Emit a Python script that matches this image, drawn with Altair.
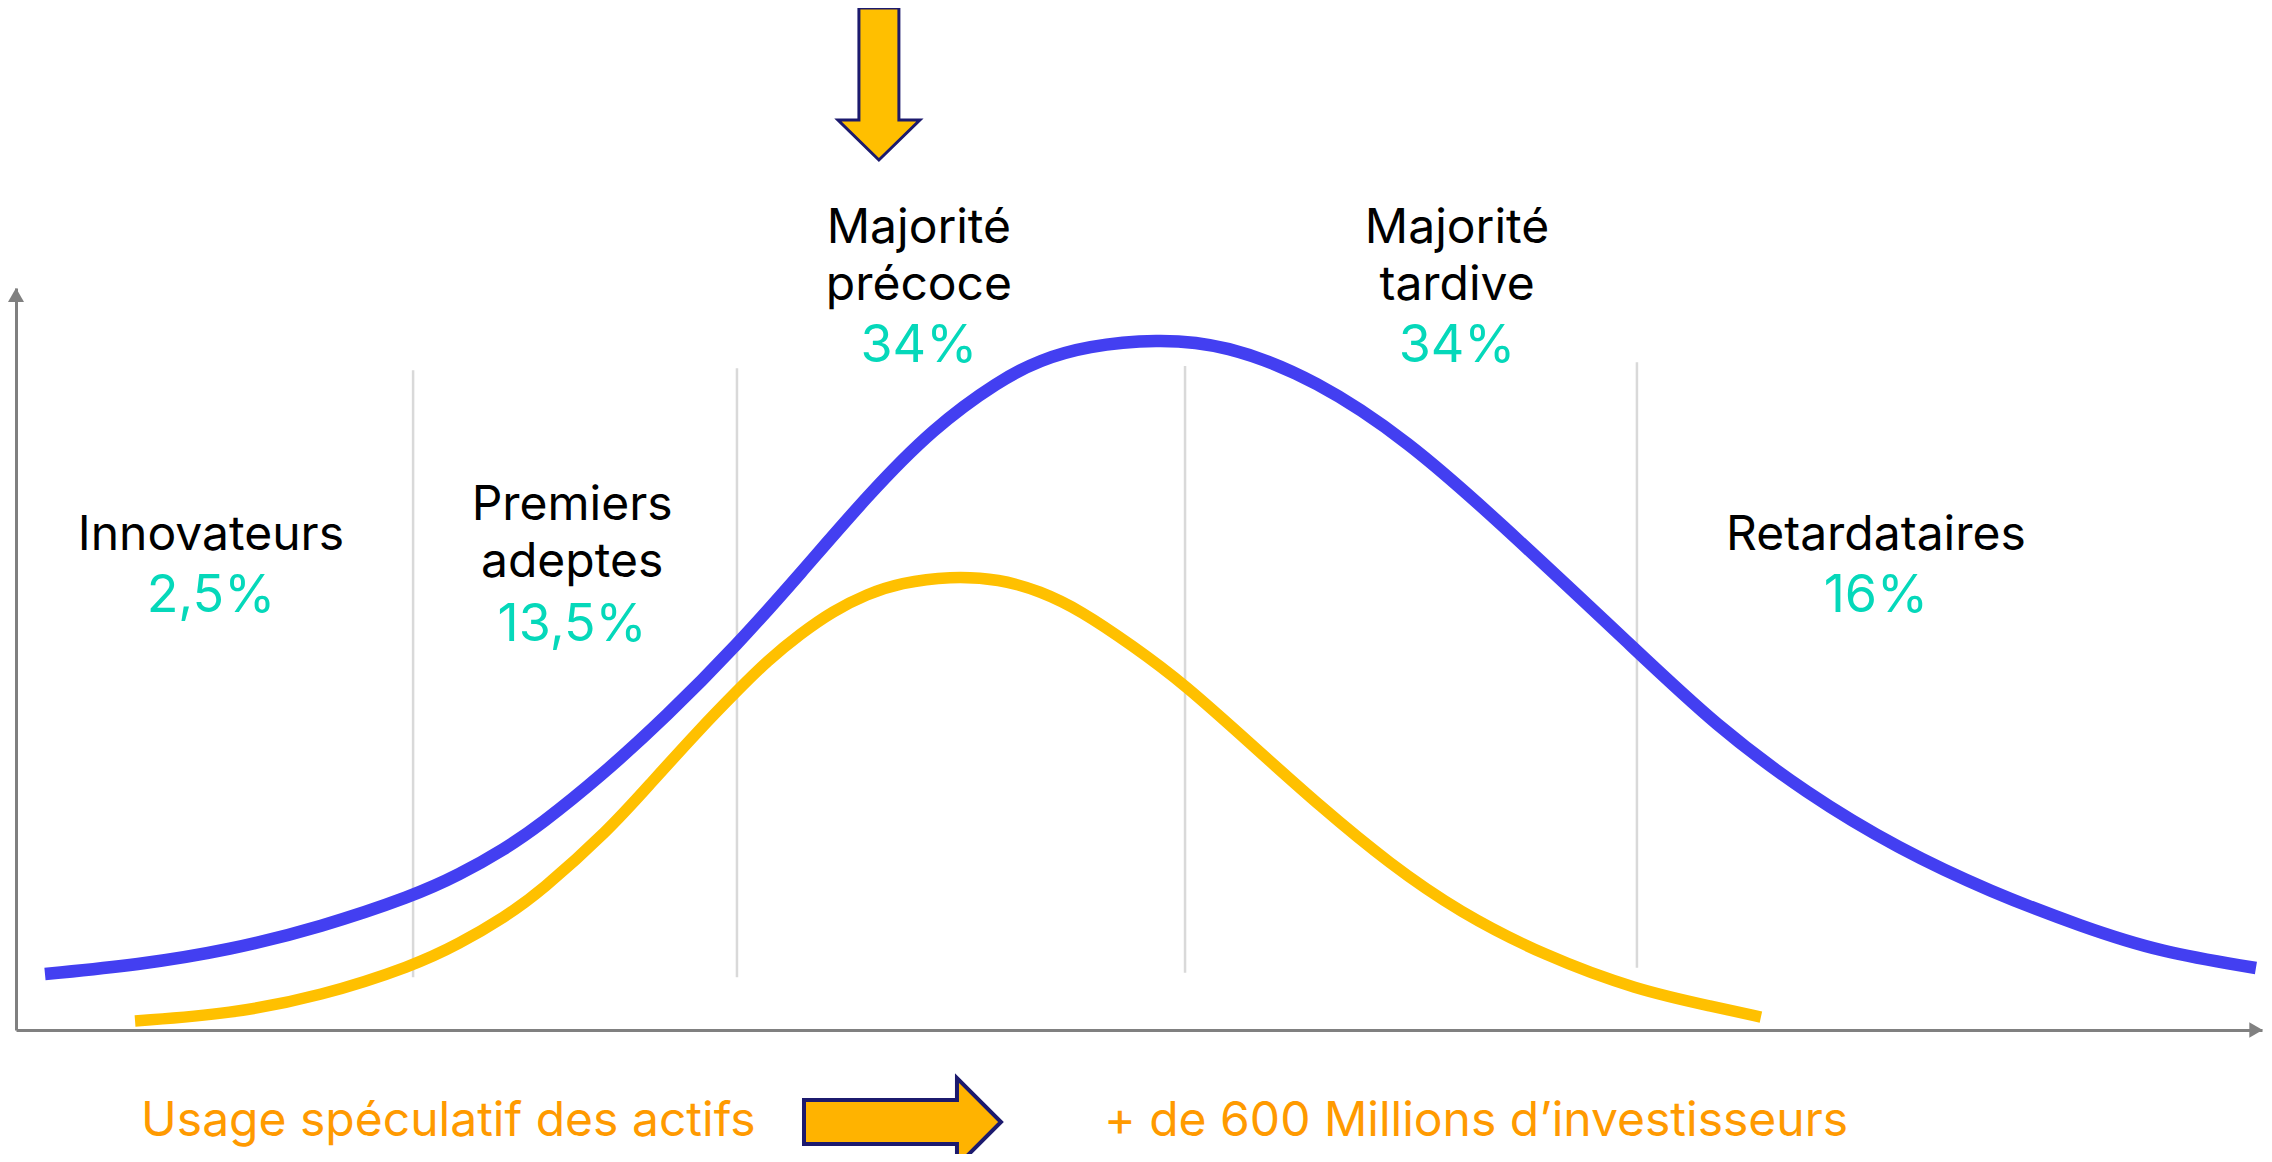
import altair as alt
import pandas as pd

# ---------------- data (x: 0-100 along the adoption axis, y: 0-100 height) ----------------
blue_x = [1.29, 5.43, 9.53, 13.58, 17.68, 19.72, 21.77, 23.33, 26.00, 28.98, 32.10, 34.91,
          37.89, 40.83, 43.81, 45.59, 47.68, 50.76, 53.83, 57.93, 62.02, 65.76, 72.17,
          75.65, 79.74, 83.84, 87.93, 92.03, 95.46, 99.73]
blue_y = [7.55, 8.76, 10.78, 13.88, 18.06, 20.89, 24.39, 27.63, 34.10, 42.32, 51.89, 61.46,
          71.97, 81.13, 87.60, 90.30, 92.18, 93.13, 92.45, 87.60, 79.25, 69.27, 51.08,
          41.11, 31.81, 24.39, 18.60, 13.88, 10.51, 8.36]

yellow_x = [5.30, 9.53, 13.58, 17.68, 19.72, 21.77, 23.33, 26.40, 28.23, 30.45, 32.10, 33.44,
            34.91, 36.38, 37.89, 39.36, 41.59, 43.81, 45.59, 47.37, 49.73, 51.96, 55.03,
            58.10, 61.17, 64.25, 68.08, 72.17, 75.65, 77.69]
yellow_y = [1.21, 2.16, 4.58, 8.63, 11.59, 15.23, 18.60, 26.95, 33.15, 40.57, 45.69, 49.73,
            53.37, 56.47, 58.76, 60.24, 61.19, 60.78, 59.16, 56.60, 51.75, 46.77, 38.41,
            30.05, 22.37, 15.90, 9.97, 5.39, 3.10, 1.75]

# segment boundaries (vertical separators)
bound_x = [17.68, 32.10, 52.05, 72.17]
bound_top = [88.9, 89.2, 89.5, 90.0]
bound_bottom = [7.1, 7.1, 7.7, 8.4]

# categories and shares
categories = ["Innovateurs", "Premiers\nadeptes", "Majorité\nprécoce", "Majorité\ntardive", "Retardataires"]
shares = ["2,5%", "13,5%", "34%", "34%", "16%"]
# annotation anchors (in data units)
cat_x = [8.68, 24.76, 40.20, 64.16, 82.81]
cat_y = [64.69, 68.73, 106.06, 106.06, 64.69]
share_y = [56.33, 52.43, 90.03, 90.03, 56.33]

bottom_texts = ["Usage spéculatif des actifs", "+ de 600 Millions d\u2019investisseurs"]
bottom_x = [5.57, 48.44]
bottom_y = [-14.29, -14.29]

# ---------------- styles ----------------
BLUE = "#433ff1"
YELLOW = "#ffc000"
TEAL = "#05d8ba"
ORANGE = "#ff9a00"
AXIS = "#808080"
GRID = "#d9d9d9"
NAVY = "#1c1a6e"
ARROW_FILL_DOWN = "#ffbf00"
ARROW_FILL_RIGHT = "#ffb300"
FONT = "Inter"

xs = alt.Scale(domain=[0, 100], nice=False, zero=False)
ys = alt.Scale(domain=[0, 100], nice=False, zero=False)


def X(field):
    return alt.X(field, type="quantitative", scale=xs, title=None)


def Y(field):
    return alt.Y(field, type="quantitative", scale=ys, title=None)


curves = pd.DataFrame(
    {"x": blue_x + yellow_x,
     "y": blue_y + yellow_y,
     "serie": ["bleu"] * len(blue_x) + ["jaune"] * len(yellow_x),
     "i": list(range(len(blue_x))) + list(range(len(yellow_x)))}
)

bounds_df = pd.DataFrame({"x": bound_x, "y": bound_bottom, "y2": bound_top})
rules = alt.Chart(bounds_df).mark_rule(color=GRID, strokeWidth=2.5).encode(
    x=X("x"), y=Y("y"), y2="y2:Q",
)

blue_line = alt.Chart(curves[curves.serie == "bleu"]).mark_line(
    color=BLUE, strokeWidth=12.5, interpolate="basis", strokeCap="butt"
).encode(x=X("x"), y=Y("y"), order="i:Q")

yellow_line = alt.Chart(curves[curves.serie == "jaune"]).mark_line(
    color=YELLOW, strokeWidth=11.5, interpolate="basis", strokeCap="butt"
).encode(x=X("x"), y=Y("y"), order="i:Q")

labels_df = pd.DataFrame({"cat": categories, "share": shares, "x": cat_x, "y": cat_y, "sy": share_y})
cat_text = alt.Chart(labels_df).mark_text(
    font=FONT, fontSize=48, color="#000000", align="center", baseline="alphabetic",
    lineBreak="\n", lineHeight=57
).encode(x=X("x"), y=Y("y"), text="cat:N")

share_text = alt.Chart(labels_df).mark_text(
    font=FONT, fontSize=52, color=TEAL, align="center", baseline="alphabetic"
).encode(x=X("x"), y=Y("sy"), text="share:N")

bottom_df = pd.DataFrame({"t": bottom_texts, "x": bottom_x, "y": bottom_y})
bottom_text = alt.Chart(bottom_df).mark_text(
    font=FONT, fontSize=48, color=ORANGE, align="left", baseline="alphabetic"
).encode(x=X("x"), y=Y("y"), text="t:N")

# axis arrow heads
y_head = alt.Chart(pd.DataFrame({"x": [0], "y": [100]})).mark_point(
    shape="triangle-up", filled=True, size=256, color=AXIS, opacity=1, yOffset=7
).encode(x=X("x"), y=Y("y"))
x_head = alt.Chart(pd.DataFrame({"x": [100], "y": [0]})).mark_point(
    shape="triangle-right", filled=True, size=240, color=AXIS, opacity=1, xOffset=-6
).encode(x=X("x"), y=Y("y"))

# block arrows (annotation shapes)
down_path = "M -0.263 -1 L 0.263 -1 L 0.263 0.474 L 0.539 0.474 L 0 1 L -0.539 0.474 L -0.263 0.474 Z"
right_path = "M -1 -0.223 L 0.553 -0.223 L 0.553 -0.447 L 1 0 L 0.553 0.447 L 0.553 0.223 L -1 0.223 Z"
down_arrow = alt.Chart(pd.DataFrame({"x": [38.42], "y": [127.5]})).mark_point(
    shape=down_path, filled=True, size=152 * 152, fill=ARROW_FILL_DOWN, stroke=NAVY,
    strokeWidth=3, opacity=1
).encode(x=X("x"), y=Y("y"))
right_arrow = alt.Chart(pd.DataFrame({"x": [39.47], "y": [-12.4]})).mark_point(
    shape=right_path, filled=True, size=197 * 197, fill=ARROW_FILL_RIGHT, stroke=NAVY,
    strokeWidth=4, opacity=1
).encode(x=X("x"), y=Y("y"))

chart = alt.layer(
    rules, blue_line, yellow_line, cat_text, share_text, bottom_text,
    y_head, x_head, down_arrow, right_arrow
).properties(
    width=2246, height=742,
    autosize=alt.AutoSizeParams(type="none"),
    padding={"left": 8, "top": 280, "right": 2, "bottom": 124},
    background="white",
).configure_view(stroke=None).configure_axis(
    domain=True, domainColor=AXIS, domainWidth=3, ticks=False, labels=False,
    grid=False, title=None
)

chart.save("out.html", embed_options={"renderer": "svg", "actions": False})
